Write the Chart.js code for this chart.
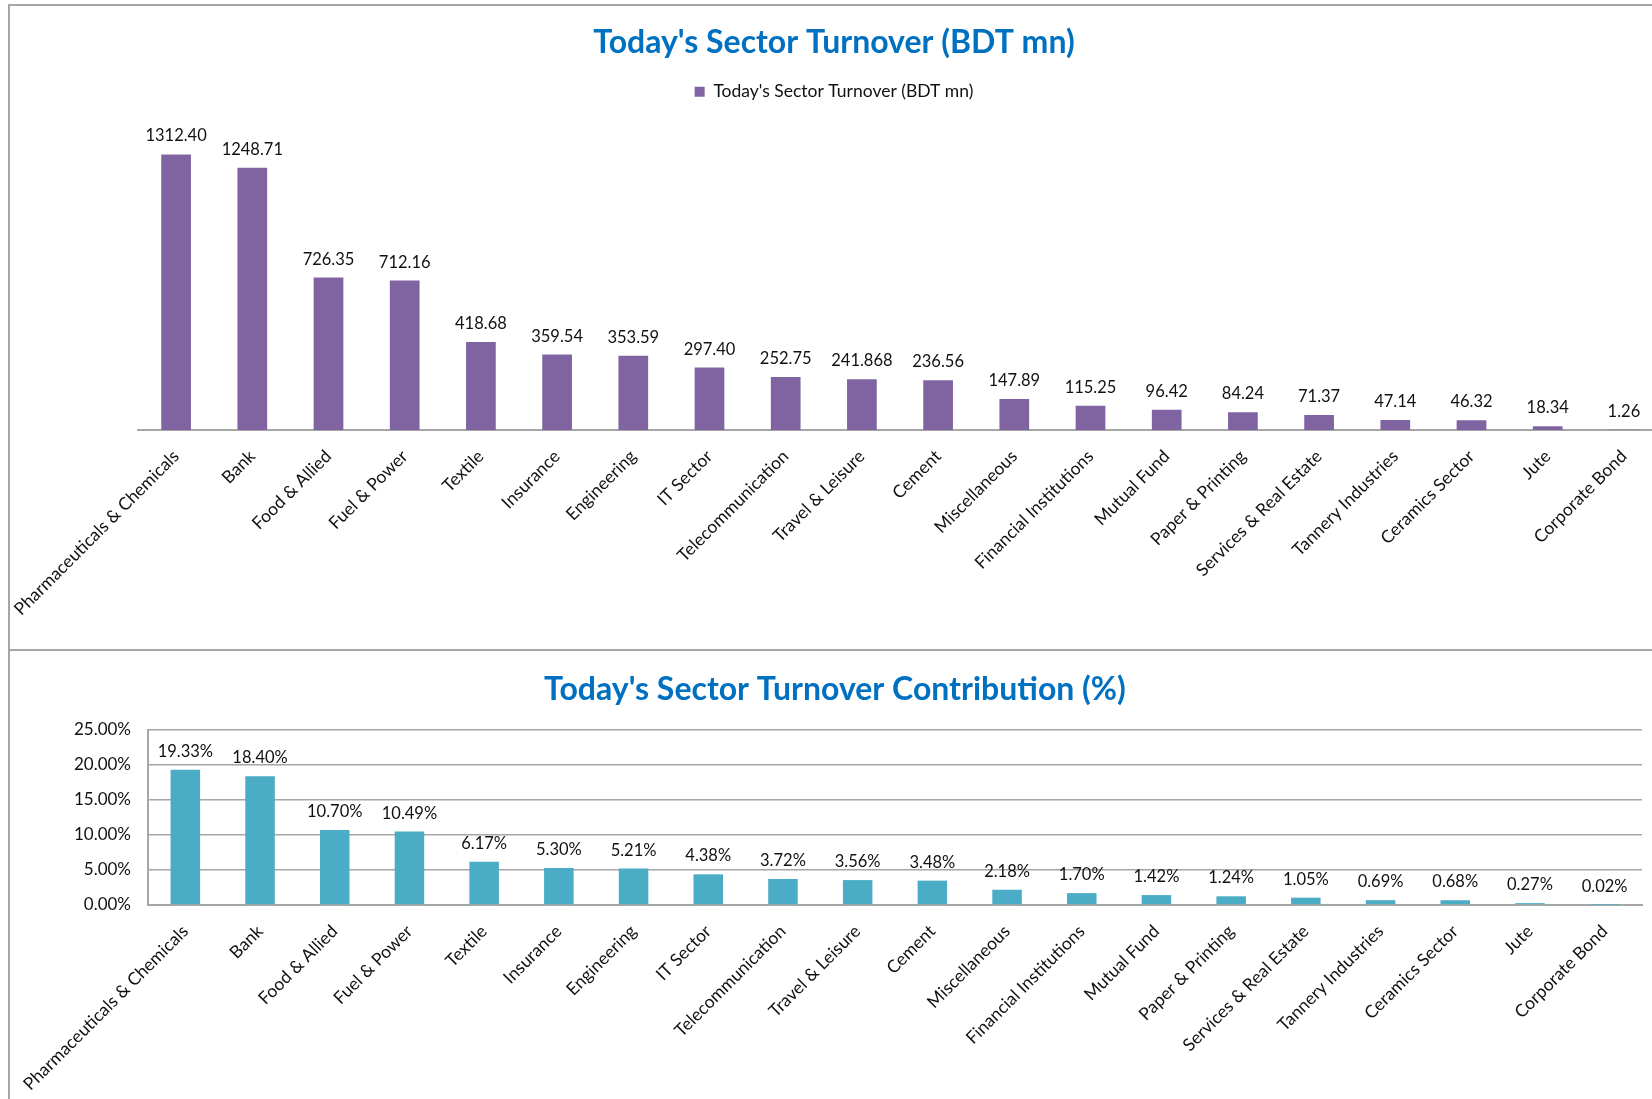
<!DOCTYPE html>
<html>
<head>
<meta charset="utf-8">
<script src="https://cdn.jsdelivr.net/npm/chart.js@4.4.1/dist/chart.umd.min.js"></script>
<style>
  html, body { margin: 0; padding: 0; background: #fff; overflow: hidden; width: 1652px; height: 1099px; }
  .wrap { position: absolute; left: 0; }
  .line { position: absolute; border-color: #a6a6a6; border-style: solid; border-width: 0; }
</style>
</head>
<body>
<div class="wrap" style="top:0;width:1664px;height:648px;"><canvas id="turnoverCanvas"></canvas></div>
<div class="wrap" style="top:650px;width:1664px;height:449px;"><canvas id="shareCanvas"></canvas></div>
<div class="line" style="left:8px;top:4px;width:1700px;border-top-width:2px;"></div>
<div class="line" style="left:8px;top:649px;width:1700px;border-top-width:2px;"></div>
<div class="line" style="left:8px;top:4px;height:1100px;border-left-width:2px;"></div>
<script>
const sectors = [
    "Pharmaceuticals & Chemicals", "Bank", "Food & Allied", "Fuel & Power", "Textile",
    "Insurance", "Engineering", "IT Sector", "Telecommunication", "Travel & Leisure",
    "Cement", "Miscellaneous", "Financial Institutions", "Mutual Fund", "Paper & Printing",
    "Services & Real Estate", "Tannery Industries", "Ceramics Sector", "Jute", "Corporate Bond"
];
const turnover = [1312.40, 1248.71, 726.35, 712.16, 418.68, 359.54, 353.59, 297.40, 252.75, 241.868,
    236.56, 147.89, 115.25, 96.42, 84.24, 71.37, 47.14, 46.32, 18.34, 1.26];
const contribution = [19.33, 18.40, 10.70, 10.49, 6.17, 5.30, 5.21, 4.38, 3.72, 3.56,
    3.48, 2.18, 1.70, 1.42, 1.24, 1.05, 0.69, 0.68, 0.27, 0.02];
const pctTicks = [0, 5, 10, 15, 20, 25];

Chart.defaults.font.family = "Lato, 'Open Sans', sans-serif";
Chart.defaults.color = "#111";

function fmtTurnover(v) {
    return Math.abs(v * 100 - Math.round(v * 100)) < 1e-6 ? v.toFixed(2) : String(v);
}

// value labels above each bar
const barLabels = {
    id: "barLabels",
    afterDatasetsDraw(chart, args, opts) {
        const ctx = chart.ctx;
        const meta = chart.getDatasetMeta(0);
        const data = chart.data.datasets[0].data;
        ctx.save();
        ctx.font = "16.5px Lato";
        ctx.fillStyle = "#111";
        ctx.textAlign = "center";
        ctx.textBaseline = "bottom";
        meta.data.forEach((bar, i) => {
            ctx.fillText(opts.format(data[i]), bar.x, bar.y - 10);
        });
        ctx.restore();
    }
};

const titleFont = { size: 32, weight: "bold" };
const tickFont = { size: 17.5 };

new Chart(document.getElementById("turnoverCanvas"), {
    type: "bar",
    data: {
        labels: sectors,
        datasets: [{
            label: "Today's Sector Turnover (BDT mn)",
            data: turnover,
            backgroundColor: "#8064a2",
            barPercentage: 0.39,
            categoryPercentage: 1
        }]
    },
    options: {
        responsive: true,
        maintainAspectRatio: false,
        animation: false,
        layout: { padding: { top: 15, left: 6, right: 2, bottom: 0 } },
        plugins: {
            title: {
                display: true,
                text: "Today's Sector Turnover (BDT mn)",
                color: "#0070c0",
                font: titleFont,
                padding: { top: 8, bottom: 11.5 }
            },
            legend: {
                display: true,
                labels: { boxWidth: 10, boxHeight: 10, font: { size: 17.5 }, color: "#111", padding: 10 }
            },
            tooltip: { enabled: false },
            barLabels: { format: fmtTurnover }
        },
        scales: {
            x: {
                grid: { display: false },
                border: { display: true, color: "#a6a6a6", width: 2 },
                ticks: { autoSkip: false, maxRotation: 45, minRotation: 45, font: tickFont, color: "#111", padding: 8 },
                afterFit(scale) { scale.height = 218; }
            },
            y: {
                min: 0,
                max: 1522,
                grid: { display: false },
                border: { display: false },
                ticks: { display: false },
                afterFit(scale) { scale.width = 132; }
            }
        }
    },
    plugins: [barLabels]
});

new Chart(document.getElementById("shareCanvas"), {
    type: "bar",
    data: {
        labels: sectors,
        datasets: [{
            label: "Today's Sector Turnover Contribution (%)",
            data: contribution,
            backgroundColor: "#4bacc6",
            barPercentage: 0.395,
            categoryPercentage: 1
        }]
    },
    options: {
        responsive: true,
        maintainAspectRatio: false,
        animation: false,
        layout: { padding: { top: 10, left: 28, right: 22, bottom: 0 } },
        plugins: {
            title: {
                display: true,
                text: "Today's Sector Turnover Contribution (%)",
                color: "#0070c0",
                font: titleFont,
                padding: { top: 10, bottom: 21.6 }
            },
            legend: { display: false },
            tooltip: { enabled: false },
            barLabels: { format: v => v.toFixed(2) + "%" }
        },
        scales: {
            x: {
                grid: { display: false },
                border: { display: true, color: "#a6a6a6", width: 2 },
                ticks: { autoSkip: false, maxRotation: 45, minRotation: 45, font: tickFont, color: "#111", padding: 8 },
                afterFit(scale) { scale.height = 194; }
            },
            y: {
                min: pctTicks[0],
                max: pctTicks[pctTicks.length - 1],
                afterBuildTicks(scale) { scale.ticks = pctTicks.map(v => ({ value: v })); },
                grid: { color: "#a6a6a6", lineWidth: 1.5, drawTicks: false },
                border: { display: true, color: "#a6a6a6", width: 2 },
                ticks: { font: { size: 17 }, color: "#111", padding: 17, callback: v => Number(v).toFixed(2) + "%" },
                afterFit(scale) { scale.width = 120; }
            }
        }
    },
    plugins: [barLabels]
});
</script>
</body>
</html>
